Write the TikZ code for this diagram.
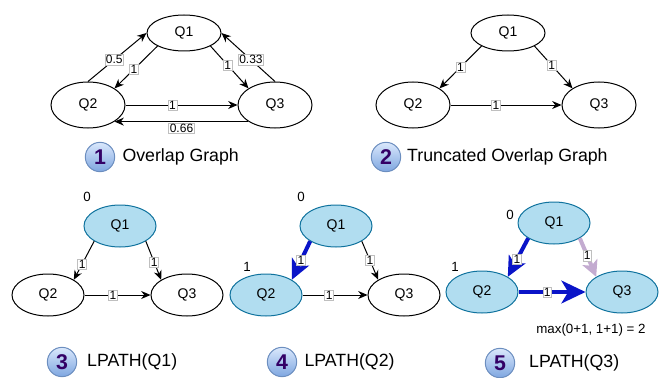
\documentclass[tikz,border=0pt]{standalone}
\usepackage{fontspec}
\setmainfont{Liberation Sans}
\usepackage{xcolor}
\usepackage{tikz}
\usetikzlibrary{shapes,arrows.meta,positioning}
\definecolor{nodefill}{HTML}{B1DDF0}
\definecolor{nodeline}{HTML}{10739E}
\definecolor{pathblue}{HTML}{0A14C8}
\definecolor{lilac}{HTML}{C3ABD0}
\definecolor{badgetop}{HTML}{DAE8FC}
\definecolor{badgebot}{HTML}{7EA6E0}
\definecolor{badgeline}{HTML}{6C8EBF}
\definecolor{badgetext}{HTML}{330066}

\begin{document}
\begin{tikzpicture}[x=0.75pt, y=-0.75pt,
    query/.style={ellipse, draw, line width=0.75pt, minimum width=55.5pt, minimum height=34.5pt, inner sep=0pt, font=\fontsize{10.5}{12}\selectfont},
    topq/.style={query, minimum height=27pt},
    lowq/.style={query, minimum width=54pt, minimum height=31.5pt},
    done/.style={lowq, fill=nodefill, draw=nodeline},
    link/.style={-{Stealth[length=7pt,width=6pt]}, line width=0.75pt},
    best/.style={-{Stealth[length=15pt,width=14pt,inset=4pt]}, line width=3pt, draw=pathblue},
    skip/.style={-{Stealth[length=12pt,width=12pt,inset=3pt]}, line width=3pt, draw=lilac},
    lbl/.style={fill=white, draw=gray!50, line width=0.4pt, inner sep=0.8pt, font=\fontsize{9}{10}\selectfont},
    wt/.style={font=\fontsize{10}{12}\selectfont},
    badge/.style={circle, draw=badgeline, line width=0.75pt, top color=badgetop, bottom color=badgebot, minimum size=22pt, inner sep=0pt, text=badgetext, font=\fontsize{16}{16}\selectfont\bfseries},
    caption/.style={font=\fontsize{13.3}{16}\selectfont}]
    \useasboundingbox (0,0) rectangle (667,378);

    % 1: overlap graph
    \node[topq] (o1) at (184,33) {Q1};
    \node[query] (o2) at (88,105) {Q2};
    \node[query] (o3) at (275,105) {Q3};
    \draw[link] (o2.north) -- node[lbl, pos=.45] {0.5} (o1.west);
    \draw[link] (o1.south west) -- node[lbl, pos=.55] {1} (o2.north east);
    \draw[link] (o1.south east) -- node[lbl, pos=.45] {1} (o3.north west);
    \draw[link] (o3.north) -- node[lbl, pos=.45] {0.33} (o1.east);
    \draw[link] (o2.east) -- node[lbl, pos=.42] {1} (o3.west);
    \draw[link] (o3.south west) -- node[lbl, yshift=-5pt] {0.66} (o2.south east);
    \node[badge] (b1) at (100,157) {1};
    \node[caption, right=2pt of b1] {Overlap Graph};

    % 2: truncated overlap graph
    \node[topq] (t1) at (508,33) {Q1};
    \node[query] (t2) at (413,105) {Q2};
    \node[query] (t3) at (599,105) {Q3};
    \draw[link] (t1.south west) -- node[lbl, pos=.5] {1} (t2.north east);
    \draw[link] (t1.south east) -- node[lbl, pos=.45] {1} (t3.north west);
    \draw[link] (t2.east) -- node[lbl, pos=.41] {1} (t3.west);
    \node[badge] (b2) at (386,157) {2};
    \node[caption, right=1pt of b2] {Truncated Overlap Graph};

    % 3: LPATH(Q1)
    \node[done] (pa1) at (120,226) {Q1};
    \node[lowq] (pa2) at (48,295) {Q2};
    \node[lowq] (pa3) at (187,295) {Q3};
    \node[wt] (wa1) at (87,197) {0};
    \draw[link] (pa1.south west) -- node[lbl, pos=.59] {1} (pa2.north east);
    \draw[link] (pa1.south east) -- node[lbl, pos=.54] {1} (pa3.north west);
    \draw[link] (pa2.east) -- node[lbl, pos=.43] {1} (pa3.west);
    \node[badge] (b3) at (62,362) {3};
    \node[caption, right=4pt of b3] {LPATH(Q1)};

    % 4: LPATH(Q2)
    \node[done] (pb1) at (336,226) {Q1};
    \node[done] (pb2) at (266,295) {Q2};
    \node[lowq] (pb3) at (404,295) {Q3};
    \node[wt] (wb1) at (301,197) {0};
    \node[wt] (wb2) at (247,267) {1};
    \draw[best] (pb1.south west) -- node[lbl, pos=.5] {1} (pb2.north east);
    \draw[link] (pb1.south east) -- node[lbl, pos=.5] {1} (pb3.north west);
    \draw[link] (pb2.east) -- node[lbl, pos=.41] {1} (pb3.west);
    \node[badge] (b4) at (282,362) {4};
    \node[caption, right=2pt of b4] {LPATH(Q2)};

    % 5: LPATH(Q3)
    \node[done] (pc1) at (554,223) {Q1};
    \node[done] (pc2) at (482,292) {Q2};
    \node[done] (pc3) at (622,292) {Q3};
    \node[wt] (wc1) at (510,215) {0};
    \node[wt] (wc2) at (455,267) {1};
    \draw[best] (pc1.south west) -- node[lbl, pos=.55] {1} (pc2.north east);
    \draw[skip] (pc1.south east) -- node[lbl, pos=.45] {1} (pc3.north west);
    \draw[best, -{Stealth[length=18pt,width=17pt,inset=5pt]}] (pc2.east) -- node[lbl, pos=.43] {1} (pc3.west);
    \node[wt] (sum) at (591,330) {max(0+1, 1+1) = 2};
    \node[badge] (b5) at (500,363) {5};
    \node[caption, right=7pt of b5] {LPATH(Q3)};
\end{tikzpicture}
\end{document}
